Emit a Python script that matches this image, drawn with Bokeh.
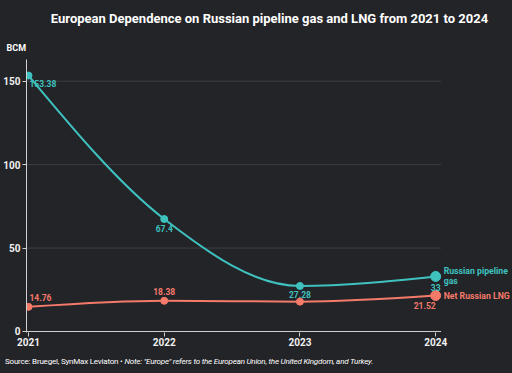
import numpy as np
from bokeh.plotting import figure
from bokeh.layouts import column
from bokeh.models import Label, Range1d, FixedTicker, ColumnDataSource, Title, Div
from bokeh.core.properties import value
from bokeh.embed import file_html
from bokeh.resources import INLINE

years = [2021, 2022, 2023, 2024]
pipeline = [153.38, 67.4, 27.28, 33.0]
lng = [14.76, 18.38, 17.9, 21.52]
y_ticks = [0, 50, 100, 150]
pipeline_labels = ["153.38", "67.4", "27.28", "33"]
lng_labels = ["14.76", "18.38", "", "21.52"]

BG = "#232428"
TEAL = "#3fc1bf"
CORAL = "#f47a6a"
FONT = "Roboto"
AXIS_C = "#d0d0d0"
GRID_C = "#3d3e43"


def monotone_beziers(xs, ys):
    xs = np.asarray(xs, float)
    ys = np.asarray(ys, float)
    n = len(xs)
    t = np.zeros(n)
    for i in range(1, n - 1):
        h0 = xs[i] - xs[i - 1]
        h1 = xs[i + 1] - xs[i]
        s0 = (ys[i] - ys[i - 1]) / h0
        s1 = (ys[i + 1] - ys[i]) / h1
        p = (s0 * h1 + s1 * h0) / (h0 + h1)
        t[i] = (np.sign(s0) + np.sign(s1)) * min(abs(s0), abs(s1), 0.5 * abs(p))
    t[0] = (3 * (ys[1] - ys[0]) / (xs[1] - xs[0]) - t[1]) / 2
    t[-1] = (3 * (ys[-1] - ys[-2]) / (xs[-1] - xs[-2]) - t[-2]) / 2
    d = dict(x0=[], y0=[], x1=[], y1=[], cx0=[], cy0=[], cx1=[], cy1=[])
    for i in range(n - 1):
        dx = (xs[i + 1] - xs[i]) / 3
        d["x0"].append(xs[i]); d["y0"].append(ys[i])
        d["x1"].append(xs[i + 1]); d["y1"].append(ys[i + 1])
        d["cx0"].append(xs[i] + dx); d["cy0"].append(ys[i] + dx * t[i])
        d["cx1"].append(xs[i + 1] - dx); d["cy1"].append(ys[i + 1] - dx * t[i + 1])
    return ColumnDataSource(d)


x_start = years[0] - 0.0147
x_end = years[0] + 3.566
data_right = years[-1] + 0.04

p = figure(width=512, height=355, output_backend="svg", toolbar_location=None,
           x_range=Range1d(x_start, x_end), y_range=Range1d(-0.6, 163),
           min_border_left=25, min_border_right=0, min_border_top=0,
           min_border_bottom=23,
           title="European Dependence on Russian pipeline gas and LNG from 2021 to 2024")
p.background_fill_color = BG
p.border_fill_color = BG
p.outline_line_color = None

p.title.align = "center"
p.title.text_color = "white"
p.title.text_font = FONT
p.title.text_font_size = "13px"
p.title.text_font_style = "bold"
p.title.standoff = 16
p.title.offset = 0
p.add_layout(Title(text="BCM", align="left", offset=-20, text_color="white",
                   text_font=FONT, text_font_size="9px", text_font_style="bold",
                   standoff=14), "above")

p.xgrid.visible = False
p.ygrid.visible = False
p.segment(x0=[x_start] * 3, x1=[data_right] * 3, y0=y_ticks[1:], y1=y_ticks[1:],
          line_color=GRID_C, line_width=1)
p.segment(x0=[x_start], x1=[data_right], y0=[0], y1=[0], line_color=AXIS_C, line_width=1)

for ax in (p.xaxis[0], p.yaxis[0]):
    ax.axis_line_color = AXIS_C
    ax.major_tick_line_color = AXIS_C
    ax.minor_tick_line_color = None
    ax.major_tick_in = 0
    ax.major_tick_out = 4
    ax.major_label_text_color = "#f0f0f0"
    ax.major_label_text_font = FONT
    ax.major_label_text_font_size = "10px"
    ax.major_label_text_font_style = "bold"
    ax.major_label_standoff = 2
p.xaxis.major_label_standoff = 1
p.xaxis.axis_line_color = None
p.xaxis.ticker = FixedTicker(ticks=years)
p.yaxis.ticker = FixedTicker(ticks=y_ticks)

# curves
p.bezier(source=monotone_beziers(years, lng), x0="x0", y0="y0", x1="x1", y1="y1",
         cx0="cx0", cy0="cy0", cx1="cx1", cy1="cy1", line_color=CORAL, line_width=2)
p.bezier(source=monotone_beziers(years, pipeline), x0="x0", y0="y0", x1="x1", y1="y1",
         cx0="cx0", cy0="cy0", cx1="cx1", cy1="cy1", line_color=TEAL, line_width=2)

p.scatter(years[:-1], lng[:-1], size=7, color=CORAL)
p.scatter(years[-1:], lng[-1:], size=10, color=CORAL)
p.scatter(years[:-1], pipeline[:-1], size=7, color=TEAL)
p.scatter(years[-1:], pipeline[-1:], size=10, color=TEAL)

# value labels
lab_style = dict(text_font=value(FONT), text_font_size="8.5px", text_font_style="bold",
                 text_baseline="middle")
pip_align = ["left", "center", "center", "center"]
pip_xoff = [1, 0, 0, 0]
pip_yoff = [8, 9, 9, 11]
for i in range(4):
    p.text([years[i]], [pipeline[i]], text=[pipeline_labels[i]], text_color=TEAL,
           text_align=pip_align[i], x_offset=pip_xoff[i], y_offset=pip_yoff[i], **lab_style)
lng_align = ["left", "center", "center", "right"]
lng_xoff = [1, 0, 0, 0]
lng_yoff = [-9, -9, -9, 10]
for i in range(4):
    if lng_labels[i]:
        p.text([years[i]], [lng[i]], text=[lng_labels[i]], text_color=CORAL,
               text_align=lng_align[i], x_offset=lng_xoff[i], y_offset=lng_yoff[i], **lab_style)

# series end labels
end_style = dict(x_units="data", y_units="data", text_font=FONT, text_font_size="8.7px",
                 text_font_style="bold", text_baseline="middle", x_offset=8)
p.add_layout(Label(x=years[-1], y=pipeline[-1], text="Russian pipeline\ngas",
                   text_color=TEAL, text_line_height=1.0, **end_style))
p.add_layout(Label(x=years[-1], y=lng[-1], text="Net Russian LNG", text_color=CORAL,
                   **end_style))

source = Div(text='Source: Bruegel, SynMax Leviaton \u2022 <i>Note: "Europe" refers to the '
                  'European Union, the United Kingdom, and Turkey.</i>',
             width=512, height=18, margin=0,
             styles={"color": "white", "font-family": FONT, "font-size": "8px",
                     "letter-spacing": "-0.2px", "background-color": BG,
                     "padding-left": "5px", "line-height": "14px",
                     "box-sizing": "border-box", "white-space": "nowrap"})

layout = column(p, source, spacing=0, styles={"background-color": BG})

open("out.html", "w").write(file_html(layout, INLINE))
